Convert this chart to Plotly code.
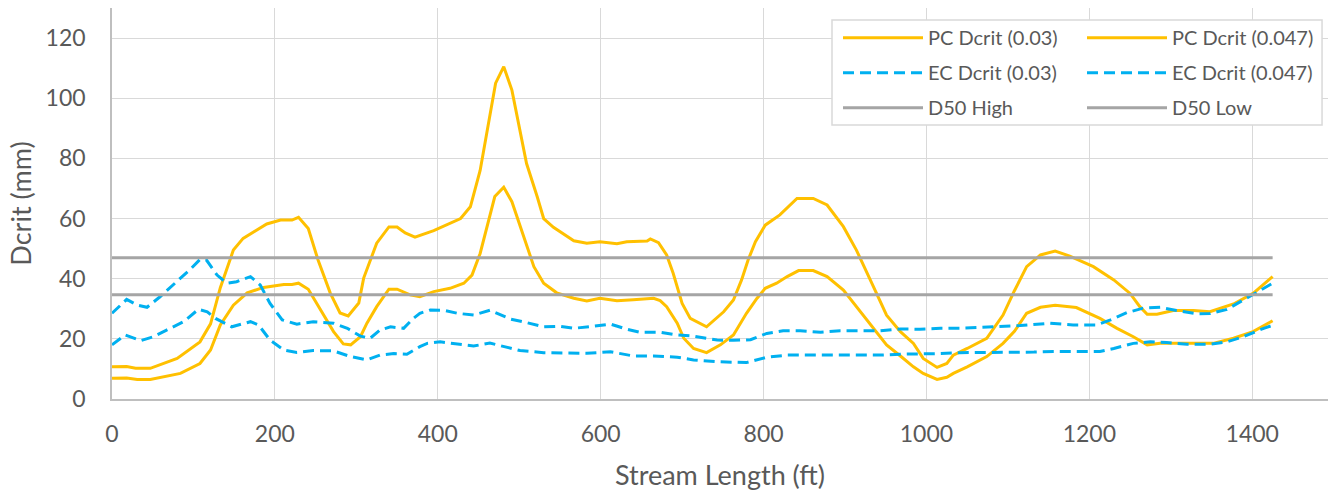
import plotly.graph_objects as go

# ---- data ----
pc03_x = [0, 18, 29, 47, 80, 108, 121, 133, 149, 161, 190, 207, 221, 229, 241, 253, 268, 280, 290, 303, 309, 325, 340, 350, 360, 372, 395, 407, 428, 440, 452, 471, 481, 491, 509, 522, 530, 542, 567, 583, 599, 620, 632, 657, 661, 671, 681, 689, 700, 710, 730, 751, 763, 773, 781, 790, 802, 820, 841, 861, 878, 898, 914, 935, 951, 968, 984, 996, 1013, 1025, 1033, 1050, 1074, 1094, 1108, 1123, 1140, 1158, 1176, 1205, 1230, 1250, 1262, 1271, 1283, 1303, 1328, 1348, 1377, 1401, 1425]
pc03_y = [10.7, 10.8, 10.2, 10.2, 13.5, 19.0, 25.0, 37.0, 49.5, 53.4, 58.2, 59.5, 59.5, 60.4, 56.7, 46.2, 35.2, 28.6, 27.6, 31.9, 40.2, 51.8, 57.2, 57.2, 55.2, 53.8, 56.0, 57.5, 60.0, 63.9, 76.0, 105.0, 110.5, 102.7, 78.3, 67.3, 60.0, 57.1, 52.6, 51.8, 52.3, 51.6, 52.3, 52.5, 53.2, 52.0, 47.9, 41.8, 31.8, 26.8, 24.0, 29.0, 32.9, 39.6, 46.2, 52.3, 57.8, 61.2, 66.7, 66.7, 64.5, 57.3, 49.5, 37.3, 27.9, 22.4, 18.5, 13.5, 10.5, 11.8, 14.6, 16.8, 20.2, 27.9, 36.0, 44.0, 47.9, 49.2, 47.5, 44.0, 39.6, 35.1, 30.7, 28.2, 28.2, 29.4, 29.4, 29.0, 31.6, 35.1, 40.7]

pc047_x = [0, 18, 31, 47, 84, 108, 121, 133, 149, 166, 186, 211, 221, 229, 241, 256, 272, 284, 293, 305, 313, 325, 340, 350, 366, 378, 395, 415, 432, 442, 452, 470, 481, 491, 501, 518, 530, 546, 567, 583, 599, 620, 640, 665, 673, 681, 694, 702, 714, 730, 747, 763, 779, 792, 802, 816, 829, 843, 861, 878, 898, 914, 935, 951, 968, 984, 996, 1013, 1025, 1033, 1050, 1074, 1094, 1108, 1123, 1140, 1158, 1184, 1213, 1234, 1254, 1271, 1287, 1315, 1352, 1377, 1401, 1425]
pc047_y = [6.9, 7.0, 6.5, 6.5, 8.5, 11.8, 16.3, 24.6, 31.2, 35.3, 37.1, 38.1, 38.1, 38.5, 36.5, 29.6, 22.4, 18.3, 18.0, 20.7, 25.2, 30.7, 36.5, 36.5, 34.6, 34.0, 35.7, 36.8, 38.5, 41.2, 48.4, 67.3, 70.4, 65.6, 57.3, 44.0, 38.5, 35.3, 33.5, 32.6, 33.5, 32.7, 33.0, 33.5, 32.7, 30.7, 25.2, 20.2, 16.8, 15.4, 18.0, 21.3, 28.5, 33.5, 36.8, 38.5, 40.7, 42.7, 42.7, 40.7, 36.2, 30.7, 23.5, 18.0, 14.3, 10.7, 8.5, 6.5, 7.2, 8.5, 10.7, 14.1, 18.5, 22.5, 28.5, 30.5, 31.2, 30.4, 26.8, 23.5, 20.7, 18.0, 18.5, 18.5, 18.5, 20.2, 22.4, 26.0]

ec03_x = [0, 18, 31, 43, 59, 80, 96, 108, 116, 129, 141, 153, 170, 182, 194, 209, 227, 247, 272, 289, 305, 317, 329, 342, 358, 370, 378, 391, 407, 424, 444, 464, 477, 489, 509, 530, 550, 567, 591, 612, 632, 648, 673, 694, 714, 743, 763, 784, 804, 824, 845, 870, 894, 919, 943, 968, 992, 1017, 1041, 1066, 1090, 1115, 1152, 1180, 1209, 1226, 1246, 1266, 1287, 1307, 1332, 1348, 1369, 1389, 1414, 1425]
ec03_y = [28.5, 33.1, 31.2, 30.5, 34.0, 39.0, 43.1, 46.4, 46.2, 41.2, 38.5, 39.0, 40.7, 37.9, 31.8, 26.3, 24.9, 25.7, 25.2, 23.5, 20.9, 20.2, 22.9, 24.0, 23.5, 26.8, 28.5, 29.6, 29.5, 28.5, 27.9, 29.5, 27.9, 26.6, 25.4, 24.0, 24.2, 23.5, 24.2, 24.9, 23.2, 22.2, 22.2, 21.3, 20.9, 19.6, 19.5, 19.7, 21.8, 22.7, 22.7, 22.2, 22.7, 22.6, 22.7, 23.3, 23.2, 23.5, 23.5, 23.8, 24.0, 24.4, 25.2, 24.6, 24.6, 26.3, 28.7, 30.2, 30.5, 29.4, 28.3, 28.4, 29.8, 32.9, 36.8, 38.5]

ec047_x = [0, 16, 35, 51, 67, 88, 106, 117, 127, 147, 170, 180, 194, 211, 227, 247, 272, 293, 313, 329, 346, 362, 378, 387, 403, 424, 444, 464, 481, 501, 530, 559, 583, 612, 640, 665, 694, 714, 743, 779, 804, 829, 857, 886, 914, 943, 968, 992, 1017, 1041, 1066, 1090, 1132, 1156, 1184, 1213, 1230, 1254, 1275, 1295, 1320, 1348, 1369, 1389, 1414, 1425]
ec047_y = [18.0, 21.3, 19.4, 20.7, 22.9, 25.7, 29.8, 29.0, 26.8, 24.0, 25.7, 24.6, 19.6, 16.3, 15.5, 16.1, 16.0, 14.1, 13.0, 14.6, 15.1, 14.9, 17.4, 18.5, 19.0, 18.3, 17.6, 18.6, 17.4, 16.1, 15.4, 15.2, 15.2, 15.7, 14.3, 14.3, 13.9, 13.0, 12.4, 12.1, 13.9, 14.6, 14.6, 14.6, 14.6, 14.6, 14.9, 14.9, 15.1, 15.4, 15.4, 15.5, 15.6, 15.8, 15.7, 15.8, 16.8, 18.5, 19.0, 18.8, 18.2, 18.2, 19.0, 20.7, 23.5, 24.5]

d50_x = [0, 1425]
d50_high = [47.0, 47.0]
d50_low = [34.7, 34.7]

names = ["PC Dcrit (0.03)", "PC Dcrit (0.047)", "EC Dcrit (0.03)",
         "EC Dcrit (0.047)", "D50 High", "D50 Low"]

x_ticks = [0, 200, 400, 600, 800, 1000, 1200, 1400]
y_ticks = [0, 20, 40, 60, 80, 100, 120, 130]
y_ticktext = ["0", "20", "40", "60", "80", "100", "120", ""]

ORANGE = "#FFC000"
BLUE = "#00B0F0"
GRAY = "#A5A5A5"
TXT = "#595959"
FONT = "Lato, 'Open Sans', sans-serif"

fig = go.Figure()
series = [
    (pc03_x, pc03_y, ORANGE, "solid", "legend"),
    (pc047_x, pc047_y, ORANGE, "solid", "legend2"),
    (ec03_x, ec03_y, BLUE, "11px,6px", "legend"),
    (ec047_x, ec047_y, BLUE, "11px,6px", "legend2"),
    (d50_x, d50_high, GRAY, "solid", "legend"),
    (d50_x, d50_low, GRAY, "solid", "legend2"),
]
for i, ((xs, ys, col, dash, lg), nm) in enumerate(zip(series, names)):
    assert len(xs) == len(ys), nm
    fig.add_trace(go.Scatter(x=xs, y=ys, mode="lines", name=nm, legend=lg,
                             legendgroup="g%d" % i,
                             line=dict(color=col, width=3, dash=dash)))

# legend frame (behind both legend columns)
fig.add_shape(type="rect", xref="paper", yref="paper",
              x0=0.5921, x1=0.9951, y0=0.7008, y1=0.9693,
              fillcolor="white", line=dict(color="#D9D9D9", width=1.5), layer="above")

leg_common = dict(orientation="v", yanchor="top", xanchor="left",
                  bgcolor="rgba(0,0,0,0)", borderwidth=0,
                  font=dict(size=20, color=TXT), itemwidth=80,
                  traceorder="grouped", tracegroupgap=6)
fig.update_layout(
    width=1328, height=492,
    margin=dict(l=112, r=0, t=8, b=93),
    paper_bgcolor="white", plot_bgcolor="white",
    font=dict(family=FONT, color=TXT, size=23),
    legend=dict(x=(838 - 112) / 1216, y=0.974, **leg_common),
    legend2=dict(x=(1082 - 112) / 1216, y=0.974, **leg_common),
    showlegend=True,
)
fig.update_xaxes(range=[0, 1493], tickvals=x_ticks,
                 showgrid=True, gridcolor="#D9D9D9", gridwidth=1.3,
                 showline=True, linecolor="#BFBFBF", linewidth=1.5,
                 zeroline=False, ticks="", ticklabelstandoff=14,
                 title=dict(text="Stream Length (ft)", font=dict(size=27, color=TXT), standoff=20))
fig.update_yaxes(range=[0, 130], tickvals=y_ticks, ticktext=y_ticktext,
                 showgrid=True, gridcolor="#D9D9D9", gridwidth=1.3,
                 showline=True, linecolor="#BFBFBF", linewidth=1.5,
                 zeroline=False, ticks="", ticklabelstandoff=20,
                 title=dict(text="Dcrit (mm)", font=dict(size=27, color=TXT), standoff=6))

fig.write_html("out.html")
